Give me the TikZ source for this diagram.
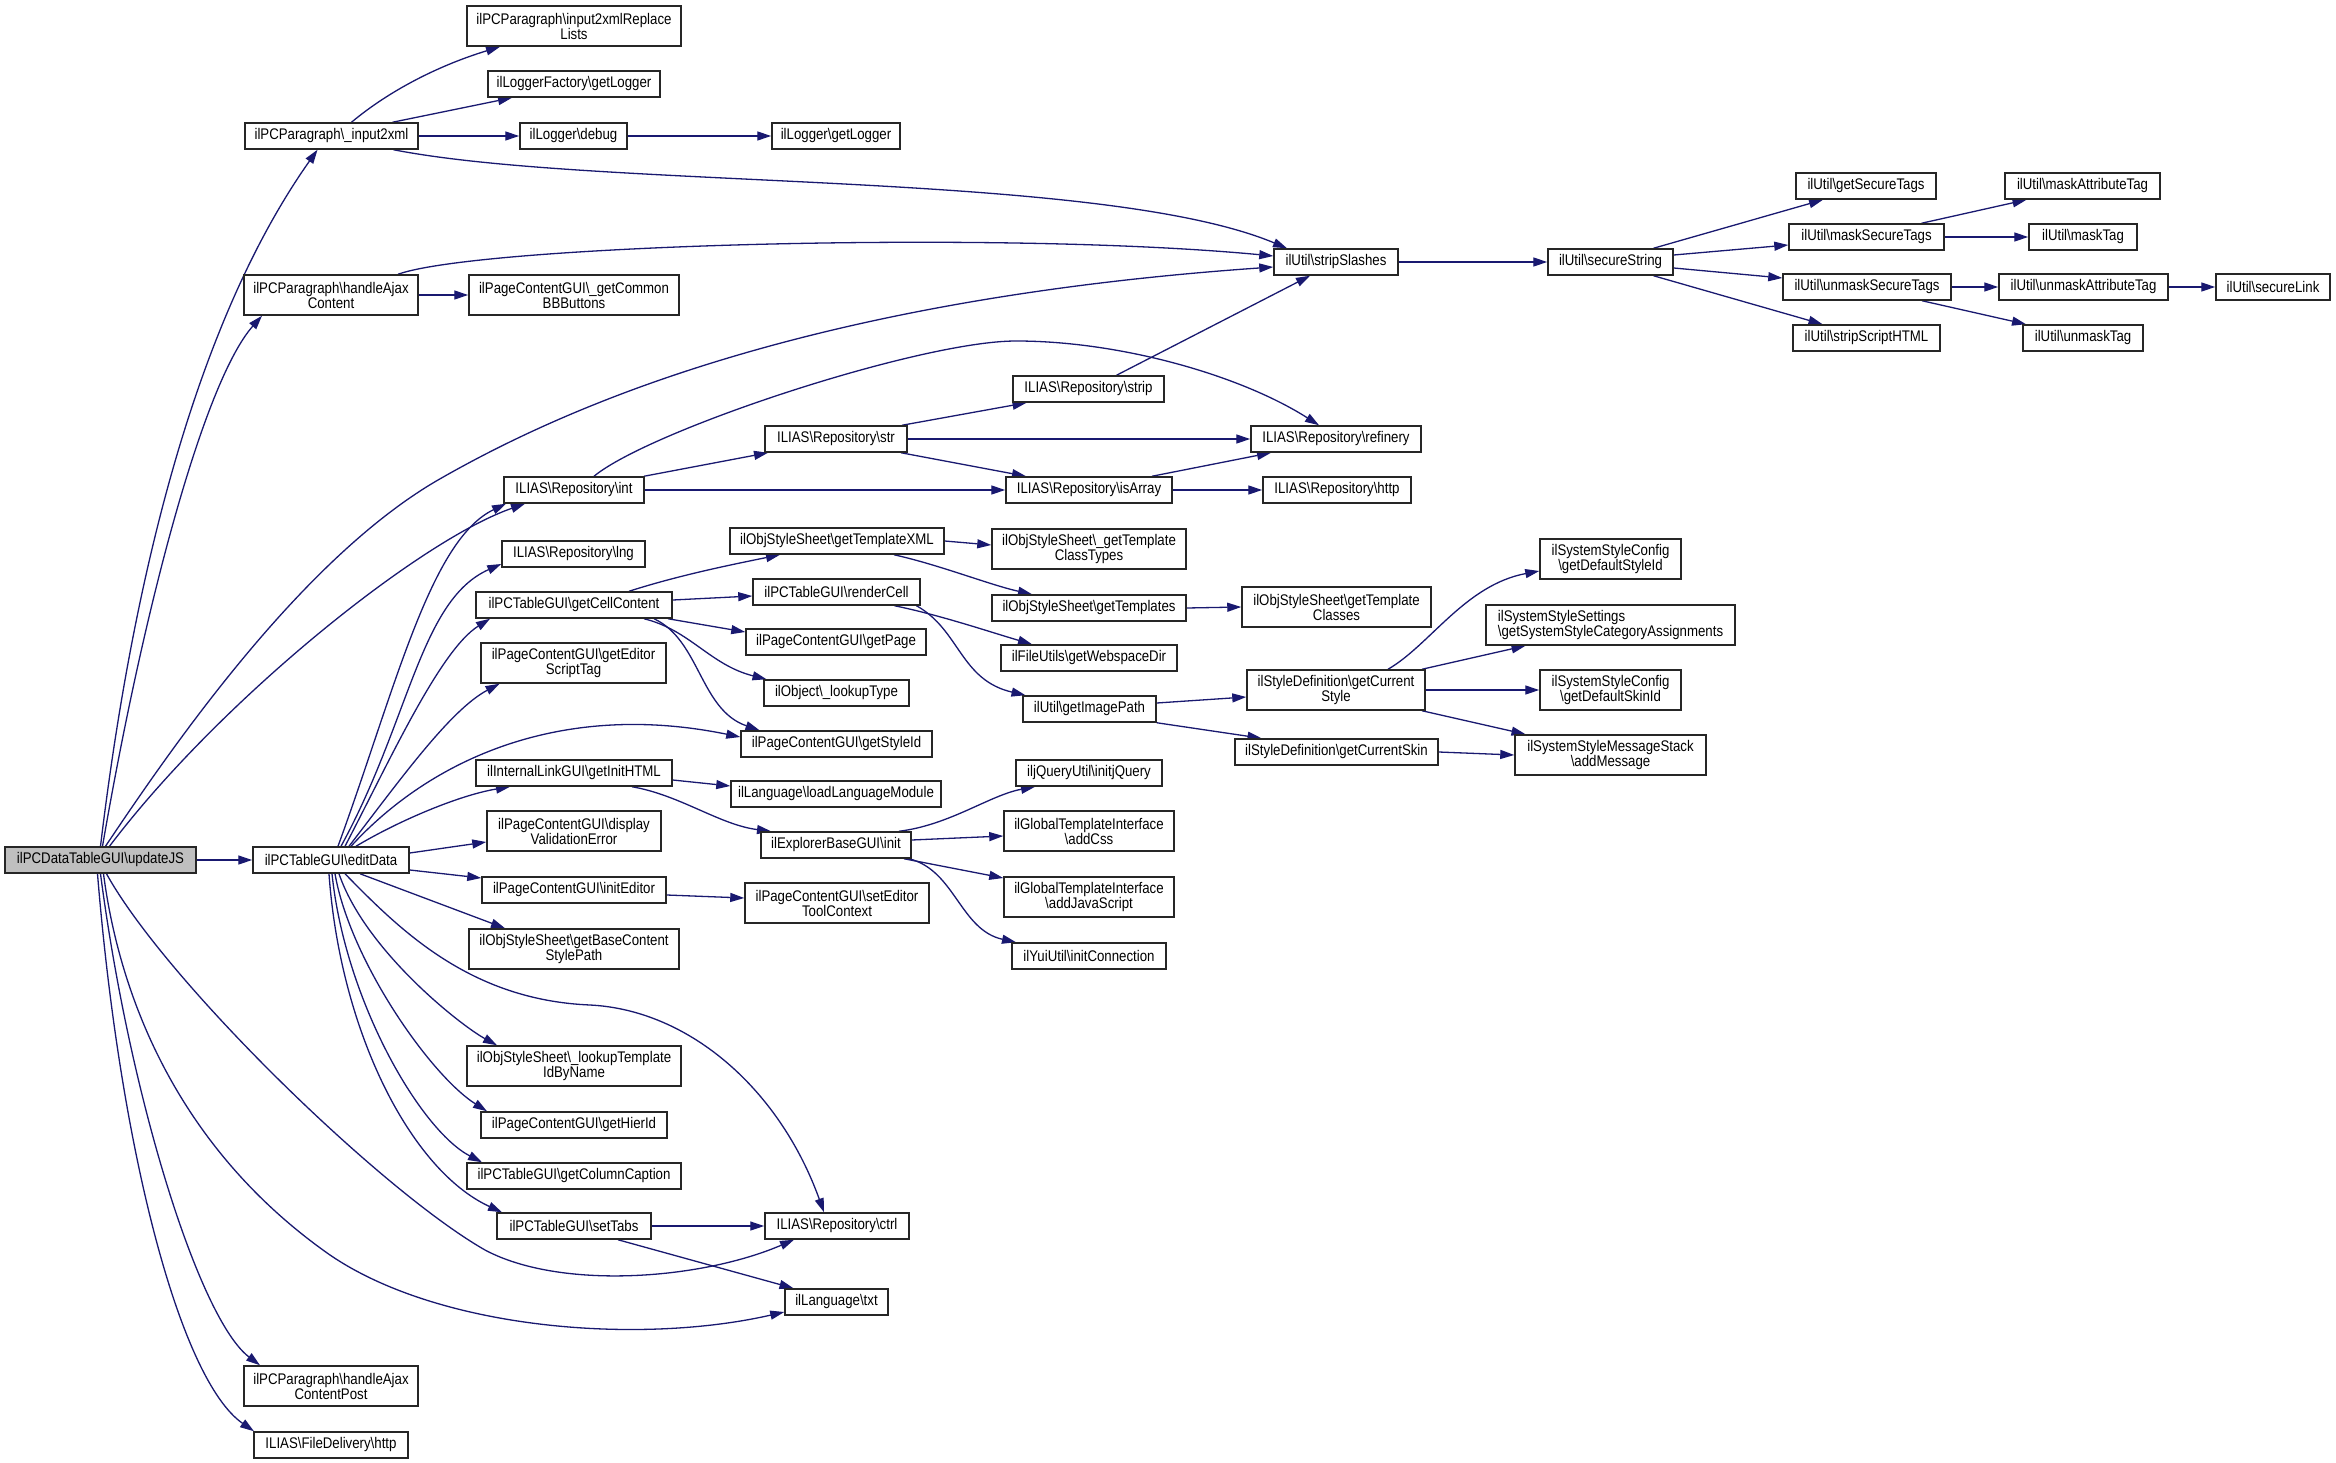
\documentclass[tikz,border=0pt]{standalone}
\usepackage{fontspec}
\newfontfamily\nodefont{Liberation Sans}[FakeStretch=0.86]
\usetikzlibrary{arrows.meta}
\definecolor{edgeblue}{HTML}{191970}
\newcommand\myBS{\textbackslash}
\pgfdeclarelayer{bg}
\pgfsetlayers{bg,main}
\tikzset{
  box/.style={draw=black!85, line width=1.5pt, fill=white, inner sep=0pt, minimum height=26pt, align=center, font=\nodefont\fontsize{15.4}{15}\selectfont},
  box2/.style={box, minimum height=40pt},
  edge/.style={draw=edgeblue, line width=1.3pt, -{Triangle[length=14pt,width=9pt]}},
}
\begin{document}
\begin{tikzpicture}[x=1pt,y=-1pt]
\useasboundingbox (0,0) rectangle (2336,1463);
% nodes
\node[box, fill=black!25, minimum width=191pt] (updateJS) at (100.5,860) {ilPCDataTableGUI\myBS updateJS};
\node[box, minimum width=173pt] (input2xml) at (331.5,136) {ilPCParagraph\myBS\_input2xml};
\node[box2, minimum width=214pt] (replaceLists) at (574,26) {ilPCParagraph\myBS input2xmlReplace\\Lists};
\node[box, minimum width=172pt] (loggerFactory) at (574,84) {ilLoggerFactory\myBS getLogger};
\node[box, minimum width=107pt] (debug) at (573.5,136) {ilLogger\myBS debug};
\node[box, minimum width=128pt] (loggerGet) at (836,136) {ilLogger\myBS getLogger};
\node[box, minimum width=124pt] (stripSlashes) at (1336,262) {ilUtil\myBS stripSlashes};
\node[box2, minimum width=174pt] (handleAjax) at (331,295) {ilPCParagraph\myBS handleAjax\\Content};
\node[box2, minimum width=210pt] (commonBB) at (574,295) {ilPageContentGUI\myBS\_getCommon\\BBButtons};
\node[box, minimum width=125pt] (secureString) at (1610.5,262) {ilUtil\myBS secureString};
\node[box, minimum width=140pt] (getSecureTags) at (1866,186) {ilUtil\myBS getSecureTags};
\node[box, minimum width=155pt] (maskSecureTags) at (1866.5,237) {ilUtil\myBS maskSecureTags};
\node[box, minimum width=155pt] (maskAttributeTag) at (2082.5,186) {ilUtil\myBS maskAttributeTag};
\node[box, minimum width=108pt] (maskTag) at (2083,237) {ilUtil\myBS maskTag};
\node[box, minimum width=168pt] (unmaskSecureTags) at (1867,287) {ilUtil\myBS unmaskSecureTags};
\node[box, minimum width=169pt] (unmaskAttributeTag) at (2083.5,287) {ilUtil\myBS unmaskAttributeTag};
\node[box, minimum width=114pt] (secureLink) at (2273,287) {ilUtil\myBS secureLink};
\node[box, minimum width=147pt] (stripScriptHTML) at (1866.5,338) {ilUtil\myBS stripScriptHTML};
\node[box, minimum width=120pt] (unmaskTag) at (2083,338) {ilUtil\myBS unmaskTag};
\node[box, minimum width=151pt] (strip) at (1088.5,389) {ILIAS\myBS Repository\myBS strip};
\node[box, minimum width=142pt] (str) at (836,439) {ILIAS\myBS Repository\myBS str};
\node[box, minimum width=140pt] (int) at (574,490) {ILIAS\myBS Repository\myBS int};
\node[box, minimum width=170pt] (refinery) at (1336,439) {ILIAS\myBS Repository\myBS refinery};
\node[box, minimum width=166pt] (isArray) at (1089,490) {ILIAS\myBS Repository\myBS isArray};
\node[box, minimum width=148pt] (rhttp) at (1337,490) {ILIAS\myBS Repository\myBS http};
\node[box, minimum width=143pt] (lng) at (573.5,554) {ILIAS\myBS Repository\myBS lng};
\node[box, minimum width=214pt] (getTemplateXML) at (837,541) {ilObjStyleSheet\myBS getTemplateXML};
\node[box2, minimum width=194pt] (classTypes) at (1089,549) {ilObjStyleSheet\myBS\_getTemplate\\ClassTypes};
\node[box, minimum width=196pt] (getCellContent) at (574,605) {ilPCTableGUI\myBS getCellContent};
\node[box, minimum width=167pt] (renderCell) at (836.5,592) {ilPCTableGUI\myBS renderCell};
\node[box, minimum width=194pt] (getTemplates) at (1089,608) {ilObjStyleSheet\myBS getTemplates};
\node[box2, minimum width=189pt] (templateClasses) at (1336.5,607) {ilObjStyleSheet\myBS getTemplate\\Classes};
\node[box, minimum width=180pt] (getPage) at (836,642) {ilPageContentGUI\myBS getPage};
\node[box, minimum width=176pt] (webspaceDir) at (1089,658) {ilFileUtils\myBS getWebspaceDir};
\node[box, minimum width=145pt] (lookupType) at (836.5,693) {ilObject\myBS\_lookupType};
\node[box, minimum width=133pt] (getImagePath) at (1089.5,709) {ilUtil\myBS getImagePath};
\node[box2, minimum width=178pt] (currentStyle) at (1336,690) {ilStyleDefinition\myBS getCurrent\\Style};
\node[box2, minimum width=141pt] (defaultStyleId) at (1610.5,559) {ilSystemStyleConfig\\\myBS getDefaultStyleId};
\node[box2, minimum width=249pt, align=left] (sysCat) at (1610.5,625) {ilSystemStyleSettings\\\myBS getSystemStyleCategoryAssignments};
\node[box2, minimum width=141pt] (defaultSkinId) at (1610.5,690) {ilSystemStyleConfig\\\myBS getDefaultSkinId};
\node[box2, minimum width=191pt] (addMessage) at (1610.5,755) {ilSystemStyleMessageStack\\\myBS addMessage};
\node[box, minimum width=203pt] (currentSkin) at (1336.5,752) {ilStyleDefinition\myBS getCurrentSkin};
\node[box2, minimum width=185pt] (editorScriptTag) at (573.5,663) {ilPageContentGUI\myBS getEditor\\ScriptTag};
\node[box, minimum width=191pt] (getStyleId) at (836.5,744) {ilPageContentGUI\myBS getStyleId};
\node[box, minimum width=196pt] (initHTML) at (574,773) {ilInternalLinkGUI\myBS getInitHTML};
\node[box, minimum width=210pt] (loadLangModule) at (836,794) {ilLanguage\myBS loadLanguageModule};
\node[box, minimum width=146pt] (initjQuery) at (1089,773) {iljQueryUtil\myBS initjQuery};
\node[box, minimum width=150pt] (ebInit) at (836,845) {ilExplorerBaseGUI\myBS init};
\node[box2, minimum width=170pt] (addCss) at (1089,831) {ilGlobalTemplateInterface\\\myBS addCss};
\node[box2, minimum width=170pt] (addJS) at (1089,897) {ilGlobalTemplateInterface\\\myBS addJavaScript};
\node[box, minimum width=154pt] (initConnection) at (1089,956) {ilYuiUtil\myBS initConnection};
\node[box2, minimum width=174pt] (displayValErr) at (574,831) {ilPageContentGUI\myBS display\\ValidationError};
\node[box, minimum width=156pt] (editData) at (331,860) {ilPCTableGUI\myBS editData};
\node[box, minimum width=184pt] (initEditor) at (574,890) {ilPageContentGUI\myBS initEditor};
\node[box2, minimum width=184pt] (setEditorToolCtx) at (837,903) {ilPageContentGUI\myBS setEditor\\ToolContext};
\node[box2, minimum width=210pt] (baseContentStylePath) at (574,949) {ilObjStyleSheet\myBS getBaseContent\\StylePath};
\node[box2, minimum width=214pt] (lookupTemplate) at (574,1066) {ilObjStyleSheet\myBS\_lookupTemplate\\IdByName};
\node[box, minimum width=186pt] (getHierId) at (574,1125) {ilPageContentGUI\myBS getHierId};
\node[box, minimum width=214pt] (columnCaption) at (574,1176) {ilPCTableGUI\myBS getColumnCaption};
\node[box, minimum width=154pt] (setTabs) at (574,1226) {ilPCTableGUI\myBS setTabs};
\node[box, minimum width=144pt] (ctrl) at (837,1226) {ILIAS\myBS Repository\myBS ctrl};
\node[box, minimum width=103pt] (txt) at (836.5,1302) {ilLanguage\myBS txt};
\node[box2, minimum width=174pt] (handleAjaxPost) at (331,1386) {ilPCParagraph\myBS handleAjax\\ContentPost};
\node[box, minimum width=154pt] (fdhttp) at (331,1445) {ILIAS\myBS FileDelivery\myBS http};
% edges
\begin{pgfonlayer}{bg}
\fill[white] (0,0) rectangle (2336,1463);
% updateJS
\draw[edge] ([xshift=0pt]updateJS.north) .. controls (130,600) and (190,330) .. ([xshift=-14pt]input2xml.south);
\draw[edge] ([xshift=2pt]updateJS.north) .. controls (145,600) and (205,380) .. ([xshift=-69pt]handleAjax.south);
\draw[edge] ([xshift=5pt]updateJS.north) .. controls (170,750) and (300,560) .. (438,480) .. controls (560,410) and (800,300) .. ([yshift=-5pt]stripSlashes.west);
\draw[edge] ([xshift=9pt]updateJS.north) .. controls (220,700) and (420,540) .. ([xshift=-49pt]int.south);
\draw[edge] (updateJS.east) -- (editData.west);
\draw[edge] ([xshift=6pt]updateJS.south) .. controls (165,980) and (380,1190) .. (485,1250) .. controls (560,1290) and (700,1280) .. ([xshift=-43pt]ctrl.south);
\draw[edge] ([xshift=3pt]updateJS.south) .. controls (120,1000) and (180,1150) .. (330,1255) .. controls (440,1330) and (640,1345) .. ([yshift=-10pt]txt.west);
\draw[edge] ([xshift=0pt]updateJS.south) .. controls (130,1100) and (200,1320) .. ([xshift=-71pt]handleAjaxPost.north);
\draw[edge] ([xshift=-3pt]updateJS.south) .. controls (120,1150) and (180,1380) .. ([xshift=-77pt]fdhttp.north);
% editData
\draw[edge] ([xshift=7pt]editData.north) .. controls (395,690) and (430,540) .. ([xshift=-68pt]int.south);
\draw[edge] ([xshift=10pt]editData.north) .. controls (410,720) and (420,600) .. ([yshift=-10pt]lng.west);
\draw[edge] ([xshift=14pt]editData.north) .. controls (390,760) and (440,650) .. ([xshift=-84pt]getCellContent.south);
\draw[edge] ([xshift=18pt]editData.north) .. controls (400,780) and (450,710) .. ([xshift=-74pt]editorScriptTag.south);
\draw[edge] ([xshift=20pt]editData.north) .. controls (430,760) and (560,700) .. ([yshift=7pt]getStyleId.west);
\draw[edge] ([xshift=25pt]editData.north) .. controls (400,820) and (460,795) .. ([xshift=-64pt]initHTML.south);
\draw[edge] ([yshift=7pt]editData.east) -- ([yshift=-11pt]displayValErr.west);
\draw[edge] ([yshift=-10pt]editData.east) -- ([yshift=12pt]initEditor.west);
\draw[edge] ([xshift=29pt]editData.south) -- ([xshift=-69pt]baseContentStylePath.north);
\draw[edge] ([xshift=8pt]editData.south) .. controls (365,950) and (460,1025) .. ([xshift=-77pt]lookupTemplate.north);
\draw[edge] ([xshift=4pt]editData.south) .. controls (350,960) and (430,1075) .. ([xshift=-87pt]getHierId.north);
\draw[edge] ([xshift=1pt]editData.south) .. controls (345,1000) and (420,1130) .. ([xshift=-92pt]columnCaption.north);
\draw[edge] ([xshift=-2pt]editData.south) .. controls (340,1030) and (410,1170) .. ([xshift=-72pt]setTabs.north);
\draw[edge] ([xshift=14pt]editData.south) .. controls (400,930) and (470,1000) .. (590,1005) .. controls (690,1010) and (780,1090) .. ([xshift=-13pt]ctrl.north);
% input2xml
\draw[edge] ([xshift=20pt]input2xml.north) .. controls (390,90) and (440,65) .. ([xshift=-74pt]replaceLists.south);
\draw[edge] ([xshift=61pt]input2xml.north) -- ([xshift=-62pt]loggerFactory.south);
\draw[edge] (input2xml.east) -- (debug.west);
\draw[edge] ([xshift=62pt]input2xml.south) .. controls (600,190) and (1100,170) .. ([xshift=-49pt]stripSlashes.north);
\draw[edge] (debug.east) -- (loggerGet.west);
% handleAjax
\draw[edge] (handleAjax.east) -- (commonBB.west);
\draw[edge] ([xshift=67pt]handleAjax.north) .. controls (480,245) and (1000,230) .. ([yshift=6pt]stripSlashes.west);
% secure
\draw[edge] (stripSlashes.east) -- (secureString.west);
\draw[edge] ([xshift=43pt]secureString.north) -- ([xshift=-43pt]getSecureTags.south);
\draw[edge] ([yshift=7pt]secureString.east) -- ([yshift=-8pt]maskSecureTags.west);
\draw[edge] ([yshift=-6pt]secureString.east) -- ([yshift=9pt]unmaskSecureTags.west);
\draw[edge] ([xshift=43pt]secureString.south) -- ([xshift=-44pt]stripScriptHTML.north);
\draw[edge] ([xshift=55pt]maskSecureTags.north) -- ([xshift=-56pt]maskAttributeTag.south);
\draw[edge] (maskSecureTags.east) -- (maskTag.west);
\draw[edge] (unmaskSecureTags.east) -- (unmaskAttributeTag.west);
\draw[edge] ([xshift=55pt]unmaskSecureTags.south) -- ([xshift=-57pt]unmaskTag.north);
\draw[edge] (unmaskAttributeTag.east) -- (secureLink.west);
% repository
\draw[edge] ([xshift=70pt]int.north) -- ([xshift=-68pt]str.south);
\draw[edge] (int.east) -- (isArray.west);
\draw[edge] ([xshift=20pt]int.north) .. controls (650,430) and (920,341) .. (1016,341) .. controls (1120,341) and (1240,375) .. ([xshift=-17pt]refinery.north);
\draw[edge] ([xshift=66pt]str.north) -- ([xshift=-62pt]strip.south);
\draw[edge] (str.east) -- (refinery.west);
\draw[edge] ([xshift=65pt]str.south) -- ([xshift=-63pt]isArray.north);
\draw[edge] ([xshift=28pt]strip.north) -- ([xshift=-26pt]stripSlashes.south);
\draw[edge] ([xshift=63pt]isArray.north) -- ([xshift=-65pt]refinery.south);
\draw[edge] (isArray.east) -- (rhttp.west);
% getCellContent
\draw[edge] ([xshift=55pt]getCellContent.north) .. controls (680,575) and (730,565) .. ([xshift=-57pt]getTemplateXML.south);
\draw[edge] ([yshift=5pt]getCellContent.east) -- ([yshift=-4pt]renderCell.west);
\draw[edge] ([xshift=94pt]getCellContent.south) -- ([yshift=10pt]getPage.west);
\draw[edge] ([xshift=70pt]getCellContent.south) .. controls (690,630) and (710,665) .. ([xshift=-70pt]lookupType.north);
\draw[edge] ([xshift=80pt]getCellContent.south) .. controls (700,640) and (700,710) .. ([xshift=-77pt]getStyleId.north);
% templates / render
\draw[edge] (getTemplateXML.east) -- ([yshift=4pt]classTypes.west);
\draw[edge] ([xshift=57pt]getTemplateXML.south) .. controls (940,565) and (990,585) .. ([xshift=-57pt]getTemplates.north);
\draw[edge] (getTemplates.east) -- (templateClasses.west);
\draw[edge] ([xshift=58pt]renderCell.south) .. controls (940,615) and (990,632) .. ([xshift=-57pt]webspaceDir.north);
\draw[edge] ([xshift=80pt]renderCell.south) .. controls (960,630) and (960,680) .. ([xshift=-64pt]getImagePath.north);
\draw[edge] ([yshift=6pt]getImagePath.east) -- ([yshift=-7pt]currentStyle.west);
\draw[edge] (getImagePath.south east) -- ([xshift=-75pt]currentSkin.north);
\draw[edge] ([xshift=52pt]currentStyle.north) .. controls (1430,645) and (1465,585) .. ([yshift=-12pt]defaultStyleId.west);
\draw[edge] ([xshift=86pt]currentStyle.north) -- ([xshift=-85pt]sysCat.south);
\draw[edge] (currentStyle.east) -- (defaultSkinId.west);
\draw[edge] ([xshift=86pt]currentStyle.south) -- ([xshift=-85pt]addMessage.north);
\draw[edge] (currentSkin.east) -- (addMessage.west);
% initHTML
\draw[edge] ([yshift=-7pt]initHTML.east) -- ([yshift=8pt]loadLangModule.west);
\draw[edge] ([xshift=58pt]initHTML.south) .. controls (680,795) and (720,825) .. ([xshift=-65pt]ebInit.north);
\draw[edge] ([xshift=63pt]ebInit.north) .. controls (950,825) and (990,795) .. ([xshift=-54pt]initjQuery.south);
\draw[edge] ([yshift=5pt]ebInit.east) -- ([yshift=-5pt]addCss.west);
\draw[edge] ([xshift=68pt]ebInit.south) -- ([yshift=19pt]addJS.west);
\draw[edge] ([xshift=73pt]ebInit.south) .. controls (955,870) and (960,930) .. ([xshift=-73pt]initConnection.north);
\draw[edge] ([yshift=-5pt]initEditor.east) -- ([yshift=5pt]setEditorToolCtx.west);
\draw[edge] (setTabs.east) -- (ctrl.west);
\draw[edge] ([xshift=44pt]setTabs.south) -- ([xshift=-43pt]txt.north);
\end{pgfonlayer}
\end{tikzpicture}
\end{document}
